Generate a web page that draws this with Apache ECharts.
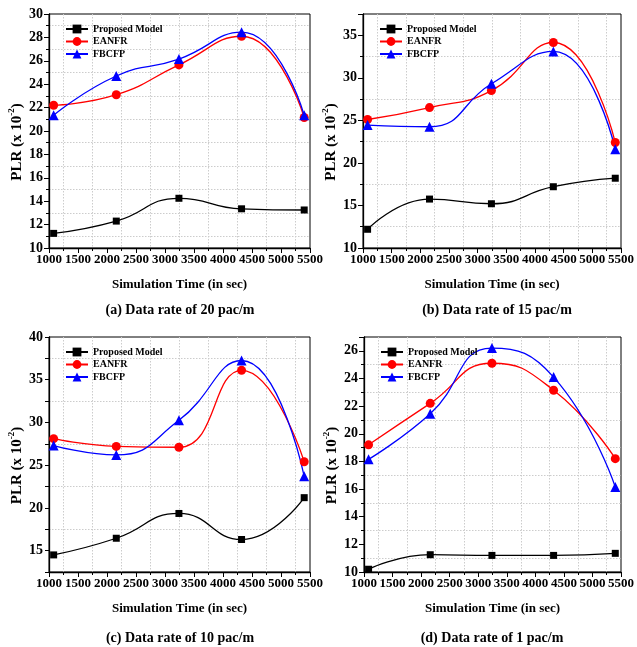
<!DOCTYPE html>
<html>
<head>
<meta charset="utf-8">
<script src="https://cdn.jsdelivr.net/npm/echarts@6/dist/echarts.min.js"></script>
<style>html,body{margin:0;padding:0;background:#fff}#c{width:637px;height:647px}</style>
</head>
<body>
<div id="c"></div>
<script>
// ---- data ----
const xValues = [1080, 2160, 3240, 4320, 5400];
const seriesNames = ['Proposed Model', 'EANFR', 'FBCFP'];
const proposedA = [11.25, 12.3, 14.25, 13.35, 13.25];
const eanfrA = [22.2, 23.1, 25.65, 28.1, 21.15];
const fbcfpA = [21.35, 24.7, 26.15, 28.45, 21.35];
const proposedB = [12.2, 15.75, 15.2, 17.2, 18.2];
const eanfrB = [25.1, 26.5, 28.5, 34.15, 22.4];
const fbcfpB = [24.45, 24.25, 29.3, 33.1, 21.6];
const proposedC = [14.5, 16.45, 19.35, 16.3, 21.2];
const eanfrC = [28.1, 27.2, 27.1, 36.1, 25.4];
const fbcfpC = [27.3, 26.2, 30.25, 37.25, 23.7];
const proposedD = [10.2, 11.25, 11.2, 11.2, 11.35];
const eanfrD = [19.2, 22.2, 25.1, 23.15, 18.2];
const fbcfpD = [18.15, 21.45, 26.2, 24.1, 16.15];
const captions = ['(a) Data rate of 20 pac/m', '(b) Data rate of 15 pac/m', '(c) Data rate of 10 pac/m', '(d) Data rate of 1 pac/m'];
const xAxisRange = {min: 1000, max: 5500, interval: 500};
const yAxisRanges = [
  {min: 10, max: 30, interval: 2, labelStep: 2},
  {min: 10, max: 37.5, interval: 5, labelStep: 5},
  {min: 12.5, max: 40, interval: 2.5, labelStep: 5},
  {min: 10, max: 27, interval: 2, labelStep: 2}
];
const cGridLines = [17.5, 22.5, 27.5, 32.5, 37.5];

const panelData = [
  [proposedA, eanfrA, fbcfpA],
  [proposedB, eanfrB, fbcfpB],
  [proposedC, eanfrC, fbcfpC],
  [proposedD, eanfrD, fbcfpD]
];

// ---- layout / style ----
const FONT = '"Liberation Serif", "Times New Roman", serif';
const grids = [
  {left: 49, top: 14, width: 261, height: 234},
  {left: 363, top: 14, width: 262, height: 234},
  {left: 49, top: 337, width: 261, height: 235},
  {left: 364, top: 337, width: 260, height: 235}
];
const captionPos = [[180, 310], [497, 310], [180, 638], [492, 638]];
const colors = ['#000000', '#ff0000', '#0000ff'];
const symbols = ['rect', 'circle', 'triangle'];
const symbolSizes = [7, 9, 10];
const gridLineStyle = {color: '#cccccc', type: [1.5, 1.5], width: 1};

const option = {
  animation: false,
  backgroundColor: '#fff',
  grid: grids.map(g => Object.assign({show: true, borderColor: '#000', borderWidth: 1, backgroundColor: 'transparent'}, g)),
  legend: grids.map((g, i) => ({
    orient: 'vertical',
    left: g.left + 11,
    top: g.top + 5,
    itemWidth: 22,
    itemHeight: 11,
    itemGap: 2.5,
    textStyle: {fontFamily: FONT, fontWeight: 'bold', fontSize: 10, color: '#000'},
    data: seriesNames
  })),
  xAxis: grids.map((g, i) => ({
    type: 'value',
    gridIndex: i,
    min: xAxisRange.min, max: xAxisRange.max, interval: xAxisRange.interval,
    name: 'Simulation Time (in sec)',
    nameLocation: 'middle',
    nameGap: 30,
    nameTextStyle: {fontFamily: FONT, fontWeight: 'bold', fontSize: 13, color: '#000'},
    axisLine: {show: true, onZero: false, lineStyle: {color: '#000', width: 1.3}},
    axisTick: {show: true, length: 5, lineStyle: {color: '#000'}},
    minorTick: {show: true, splitNumber: 2, length: 3, lineStyle: {color: '#000'}},
    splitLine: {show: false},
    minorSplitLine: {show: true, lineStyle: gridLineStyle},
    axisLabel: {fontFamily: FONT, fontWeight: 'bold', fontSize: 13, color: '#000', margin: 5,
      showMaxLabel: true, showMinLabel: true, hideOverlap: false, interval: 0,
      formatter: v => String(v)}
  })),
  yAxis: grids.map((g, i) => {
    const r = yAxisRanges[i];
    const isC = i === 2;
    return {
      type: 'value',
      gridIndex: i,
      min: r.min, max: r.max, interval: r.interval,
      name: '{a|PLR (x 10}{s|-2}{a|)}',
      nameLocation: 'middle',
      nameGap: 24,
      nameRotate: 90,
      nameTextStyle: {
        padding: [0, 22, 0, 0],
        rich: {
          a: {fontFamily: FONT, fontWeight: 'bold', fontSize: 15, color: '#000', lineHeight: 18, verticalAlign: 'bottom'},
          s: {fontFamily: FONT, fontWeight: 'bold', fontSize: 9, color: '#000', lineHeight: 18, verticalAlign: 'top', padding: [0, 0, 6, 0]}
        }
      },
      axisLine: {show: true, onZero: false, lineStyle: {color: '#000', width: 1.3}},
      axisTick: {show: true, length: isC ? 4 : 5, lineStyle: {color: '#000'}},
      minorTick: {show: !isC, splitNumber: 2, length: 3, lineStyle: {color: '#000'}},
      splitLine: {show: false},
      minorSplitLine: {show: !isC, lineStyle: gridLineStyle},
      axisLabel: {
        fontFamily: FONT, fontWeight: 'bold', fontSize: 14, color: '#000', margin: 6, hideOverlap: false,
        formatter: v => (Math.abs(v / r.labelStep - Math.round(v / r.labelStep)) < 1e-6 ? String(v) : '')
      }
    };
  }),
  series: [],
  graphic: captions.map((t, i) => ({
    type: 'text',
    x: captionPos[i][0], y: captionPos[i][1],
    style: {text: t, fontFamily: FONT, fontWeight: 'bold', fontSize: 14, fill: '#000', align: 'center', verticalAlign: 'middle'}
  }))
};

panelData.forEach((sets, p) => {
  sets.forEach((vals, k) => {
    const s = {
      type: 'line',
      name: seriesNames[k],
      xAxisIndex: p,
      yAxisIndex: p,
      smooth: 0.5,
      symbol: symbols[k],
      symbolSize: symbolSizes[k],
      itemStyle: {color: colors[k]},
      lineStyle: {color: colors[k], width: 1.3},
      data: xValues.map((x, j) => [x, vals[j]])
    };
    if (p === 2 && k === 0) {
      s.markLine = {
        silent: true,
        symbol: 'none',
        label: {show: false},
        lineStyle: gridLineStyle,
        z: 0,
        data: cGridLines.map(v => ({yAxis: v}))
      };
    }
    option.series.push(s);
  });
});

const chart = echarts.init(document.getElementById('c'), null, {renderer: 'canvas'});
chart.setOption(option);
</script>
</body>
</html>
